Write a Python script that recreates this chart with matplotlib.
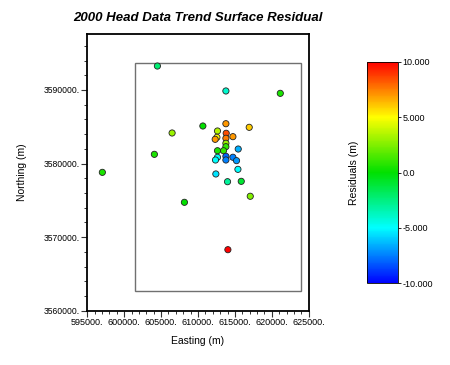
import matplotlib
matplotlib.use("Agg")
import matplotlib.pyplot as plt
from matplotlib.colors import LinearSegmentedColormap, Normalize
from matplotlib.patches import Rectangle
from matplotlib.ticker import MultipleLocator, FuncFormatter

plt.rcParams['font.family'] = ['Liberation Sans', 'DejaVu Sans']

# Data: well locations and residual values
easting = [604500, 613780, 621150, 613780, 610660, 616940, 606490, 612640, 613820,
           612560, 612330, 614730, 613780, 613780, 613780, 612640, 613460, 615450,
           613780, 614730, 612640, 612370, 613780, 615220, 604090, 597040, 615410,
           612420, 614000, 615860, 617080, 608160, 614050]
northing = [3593250, 3589860, 3589540, 3585410, 3585100, 3584920, 3584150, 3584420, 3584110,
            3583560, 3583290, 3583650, 3583430, 3582750, 3582290, 3581740, 3581740, 3581970,
            3580980, 3580850, 3580850, 3580480, 3580480, 3580390, 3581250, 3578800, 3579210,
            3578580, 3577530, 3577580, 3575550, 3574730, 3568290]
residual = [-2.2, -4.0, 0.5, 7.0, 0.0, 6.0, 3.0, 3.5, 8.5,
            5.0, 7.0, 7.0, 7.5, 3.0, 1.0, 0.5, 1.0, -6.5,
            -8.0, -7.5, -5.0, -5.0, -7.5, -7.0, 0.5, 0.5, -5.0,
            -5.5, -3.0, -1.0, 2.5, 0.0, 10.0]

# Trend surface domain rectangle
domain_x = [601470, 623900]
domain_y = [3562700, 3593600]

cbar_ticks = [-10, -5, 0, 5, 10]
cbar_labels = ['-10.000', '-5.000', '0.0', '5.000', '10.000']

cmap = LinearSegmentedColormap.from_list(
    'surfer', ['#0000ff', '#00ffff', '#00e000', '#ffff00', '#ff0000'])
norm = Normalize(-10, 10)

fig = plt.figure(figsize=(4.5, 3.65), dpi=100)
ax = fig.add_axes([0.194, 0.1488, 0.492, 0.758])

ax.add_patch(Rectangle((domain_x[0], domain_y[0]), domain_x[1] - domain_x[0],
                       domain_y[1] - domain_y[0], fill=False, edgecolor='#707070', lw=1.0))
ax.scatter(easting, northing, c=residual, cmap=cmap, norm=norm, s=20,
           edgecolors='#222222', linewidths=0.6, zorder=3)

ax.set_xlim(595000, 625000)
ax.set_ylim(3560000, 3597600)
ax.xaxis.set_major_locator(MultipleLocator(5000))
ax.xaxis.set_minor_locator(MultipleLocator(1000))
ax.yaxis.set_major_locator(MultipleLocator(10000))
ax.yaxis.set_minor_locator(MultipleLocator(2000))
fmt = FuncFormatter(lambda v, p: f"{v:.0f}.")
ax.xaxis.set_major_formatter(fmt)
ax.yaxis.set_major_formatter(fmt)
ax.tick_params(which='major', length=4, width=0.8, pad=1.5, color='#333333')
ax.tick_params(axis='x', which='major', labelsize=6.5)
ax.tick_params(axis='y', which='major', labelsize=6.2)
ax.tick_params(which='minor', length=2.5, width=0.7, color='#333333')
for s in ax.spines.values():
    s.set_linewidth(1.3)
ax.set_xlabel('Easting (m)', fontsize=7.5, labelpad=6)
ax.set_ylabel('Northing (m)', fontsize=7.5, labelpad=12)

fig.text(0.44, 0.95, '2000 Head Data Trend Surface Residual', ha='center', va='center',
         fontsize=9.5, fontweight='bold', fontstyle='italic')

cax = fig.add_axes([0.816, 0.2238, 0.069, 0.607])
sm = plt.cm.ScalarMappable(norm=norm, cmap=cmap)
cb = fig.colorbar(sm, cax=cax, ticks=cbar_ticks)
cb.ax.set_yticklabels(cbar_labels)
cb.ax.tick_params(labelsize=6.5, length=2, width=0.6, pad=1)
cb.outline.set_linewidth(0.6)
cb.ax.yaxis.set_label_position('left')
cb.set_label('Residuals (m)', fontsize=7.5, labelpad=6)

fig.savefig('out.png', dpi=100)
